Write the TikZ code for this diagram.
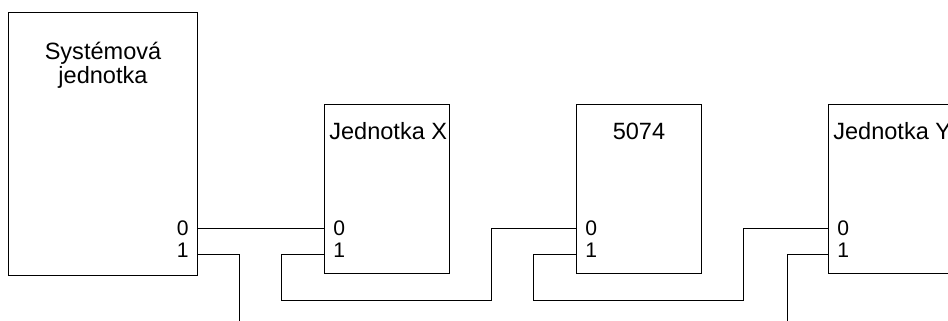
\documentclass[tikz,border=0pt]{standalone}
\usepackage{fontspec}
\setmainfont{Liberation Sans}
\usetikzlibrary{positioning}

\tikzset{
    unit/.style={draw, line width=0.85pt, anchor=north west, inner sep=0pt,
        minimum width=2.5cm, minimum height=3.38cm},
    title/.style={anchor=base, inner sep=0pt, font=\fontsize{13.4}{16}\selectfont},
    port/.style={anchor=base, inner sep=0pt, font=\fontsize{12}{14}\selectfont},
    wire/.style={line width=0.57pt}
}

\begin{document}
\begin{tikzpicture}[x=0.02cm,y=0.02cm]
            \useasboundingbox (0,0) rectangle (948,321);
            \clip (0,0) rectangle (948,321);

            \node[unit, minimum width=3.78cm, minimum height=5.26cm] (sys) at (8,309) {};
            \node[unit] (ux) at (324,217) {};
            \node[unit] (um) at (576,217) {};
            \node[unit, minimum width=2.6cm] (uy) at (828,217) {};

            \node[title] (sysA) at (103,261) {Systémová};
            \node[title] (sysB) at (103,237) {jednotka};
            \node[title, anchor=base west] (uxT) at (329,181) {Jednotka X};
            \node[title] (umT) at (639,181) {5074};
            \node[title, anchor=base west] (uyT) at (833,181) {Jednotka Y};

            \node[port, anchor=base east] at (189,85) {0};
            \node[port, anchor=base east] at (189,63) {1};
            \foreach \u/\x in {ux/333,um/585,uy/837} {
                \node[port, anchor=base west] at (\x,85) {0};
                \node[port, anchor=base west] at (\x,63) {1};
                \coordinate (\u-0) at (\u.west |- 0,92);
                \coordinate (\u-1) at (\u.west |- 0,66.5);
            }
            \coordinate (sys-0) at (sys.east |- 0,92);
            \coordinate (sys-1) at (sys.east |- 0,66.5);
            \coordinate (endA) at (239,0);
            \coordinate (endB) at (787,0);

            \draw[wire] (sys-0) -- (ux-0);
            \draw[wire] (sys-1) -| (endA);
            \draw[wire] (ux-1) -- (281,66.5) |- (491,20) |- (um-0);
            \draw[wire] (um-1) -- (533,66.5) |- (743,20) |- (uy-0);
            \draw[wire] (uy-1) -| (endB);
        \end{tikzpicture}
\end{document}
